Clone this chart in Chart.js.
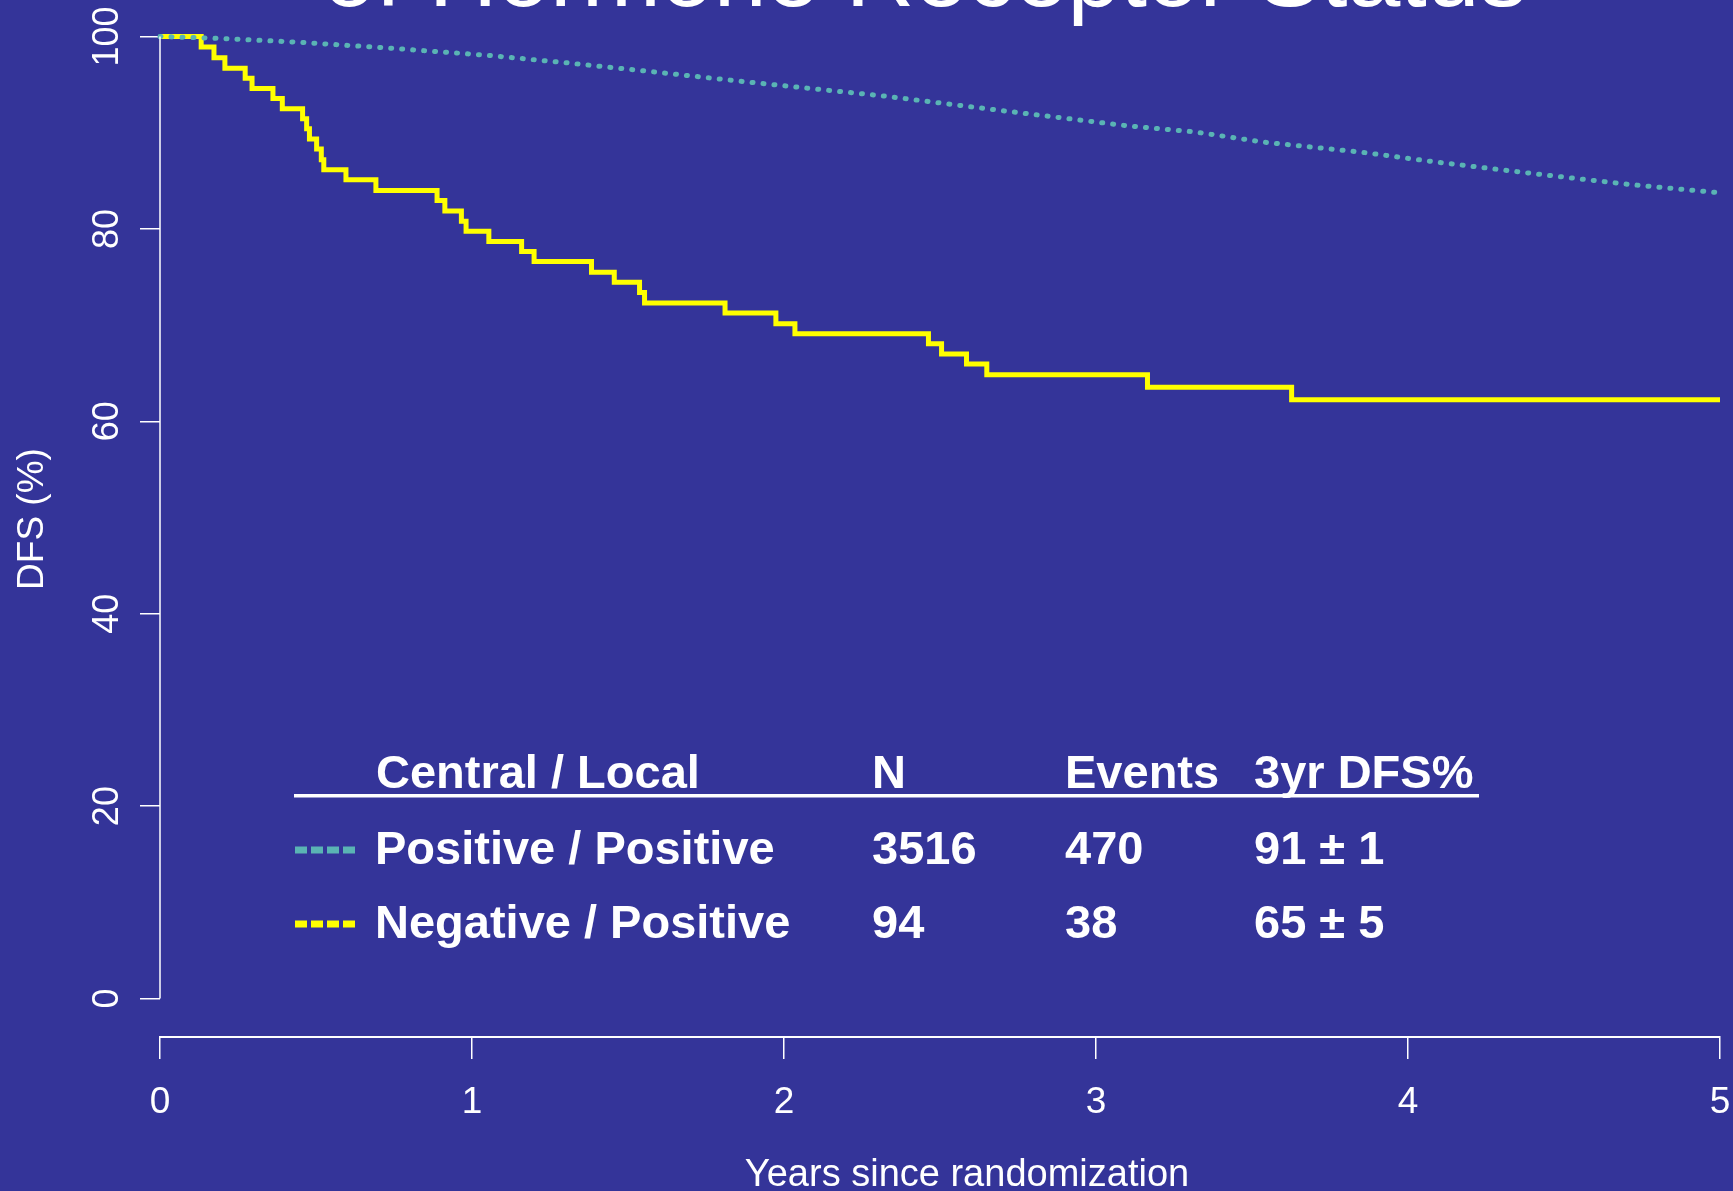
<!DOCTYPE html>
<html><head><meta charset="utf-8">
<script src="https://cdn.jsdelivr.net/npm/chart.js@4.4.1/dist/chart.umd.min.js"></script>
<style>
html,body{margin:0;padding:0;background:#343499;overflow:hidden}
#wrap{width:1733px;height:1191px;position:relative}
canvas{display:block}
</style>
</head><body><div id="wrap"><canvas id="c" width="1733" height="1191"></canvas></div>
<script>
// ---- data ----
const chartTitle = 'of Hormone Receptor Status';
const xAxisTitle = 'Years since randomization';
const yAxisTitle = 'DFS (%)';
const xTicks = [0, 1, 2, 3, 4, 5];
const yTicks = [0, 20, 40, 60, 80, 100];

// Positive / Positive (dotted cyan)
const posPosTimes = [0, 0.192, 0.449, 0.732, 1.047, 1.293, 1.56, 1.846, 2.083, 2.324, 2.66, 2.863, 3.104, 3.312, 3.542, 3.857, 4.09, 4.428, 4.701, 5.0];
const posPosDFS   = [100, 99.8, 99.4, 98.8, 98.05, 97.3, 96.4, 95.4, 94.6, 93.8, 92.45, 91.65, 90.7, 90.1, 89.0, 87.95, 86.95, 85.65, 84.65, 83.75];

// Negative / Positive (solid yellow step curve)
const negPosTimes = [0, 0.132, 0.173, 0.208, 0.273, 0.295, 0.362, 0.392, 0.457, 0.470, 0.479, 0.502, 0.517, 0.525, 0.596, 0.692, 0.888, 0.913, 0.966, 0.981, 1.054, 1.159, 1.199, 1.383, 1.456, 1.537, 1.553, 1.811, 1.974, 2.035, 2.463, 2.505, 2.585, 2.65, 3.165, 3.627, 5.0];
const negPosDFS   = [100, 98.9, 97.8, 96.7, 95.65, 94.6, 93.55, 92.5, 91.45, 90.4, 89.35, 88.3, 87.2, 86.15, 85.1, 84.0, 82.95, 81.85, 80.8, 79.75, 78.7, 77.65, 76.6, 75.5, 74.45, 73.4, 72.3, 71.25, 70.15, 69.1, 68.05, 67.0, 65.95, 64.85, 63.55, 62.25, 62.25];

const tableHeader = ['Central / Local', 'N', 'Events', '3yr DFS%'];
const groupNames  = ['Positive / Positive', 'Negative / Positive'];
const groupN      = ['3516', '94'];
const groupEvents = ['470', '38'];
const group3yr    = ['91 \u00B1 1', '65 \u00B1 5'];

// ---- styling ----
const BG = '#343499';
const CYAN = '#5ab4b4';
const YELLOW = '#ffff00';
const FONT = '"Liberation Sans", Arial, Helvetica, sans-serif';

const toXY = (xs, ys) => xs.map((x, i) => ({x: x, y: ys[i]}));

const bgPlugin = {
  id: 'bg',
  beforeDraw(chart) {
    const ctx = chart.ctx;
    ctx.save();
    ctx.fillStyle = BG;
    ctx.fillRect(0, 0, chart.width, chart.height);
    ctx.restore();
  }
};

const decorPlugin = {
  id: 'decor',
  afterDraw(chart) {
    const ctx = chart.ctx;
    const xs = chart.scales.x, ys = chart.scales.y;
    ctx.save();
    // y axis line (only over 0..100)
    ctx.strokeStyle = '#ffffff';
    ctx.lineWidth = 1.5;
    ctx.beginPath();
    ctx.moveTo(xs.left, ys.getPixelForValue(yTicks[0]));
    ctx.lineTo(xs.left, ys.getPixelForValue(yTicks[yTicks.length - 1]));
    ctx.stroke();

    ctx.fillStyle = '#ffffff';
    // main title (mostly above the visible area)
    ctx.font = '95px ' + FONT;
    ctx.textAlign = 'center';
    ctx.textBaseline = 'alphabetic';
    ctx.fillText(chartTitle, 925, 6);

    // x axis title
    ctx.font = '38px ' + FONT;
    ctx.fillText(xAxisTitle, 967, 1186);

    // y axis title
    ctx.save();
    ctx.translate(33, 519);
    ctx.rotate(-Math.PI / 2);
    ctx.textBaseline = 'middle';
    ctx.font = '37px ' + FONT;
    ctx.fillText(yAxisTitle, 0, 0);
    ctx.restore();

    // table / legend
    const colX = [376, 872, 1065, 1254];
    ctx.textAlign = 'left';
    ctx.textBaseline = 'alphabetic';
    ctx.font = 'bold 47px ' + FONT;
    tableHeader.forEach((t, i) => ctx.fillText(t, colX[i], 788));
    ctx.fillRect(294, 794, 1185, 3.5);

    const rowY = [864, 938];
    const keyY = [850, 924];
    const keyColor = [CYAN, YELLOW];
    for (let r = 0; r < 2; r++) {
      ctx.fillStyle = '#ffffff';
      ctx.fillText(groupNames[r], 375, rowY[r]);
      ctx.fillText(groupN[r], colX[1], rowY[r]);
      ctx.fillText(groupEvents[r], colX[2], rowY[r]);
      ctx.fillText(group3yr[r], colX[3], rowY[r]);
      ctx.strokeStyle = keyColor[r];
      ctx.lineWidth = 7;
      ctx.setLineDash([12, 4]);
      ctx.beginPath();
      ctx.moveTo(295, keyY[r]);
      ctx.lineTo(359, keyY[r]);
      ctx.stroke();
      ctx.setLineDash([]);
    }
    ctx.restore();
  }
};

new Chart(document.getElementById('c'), {
  type: 'line',
  data: {
    datasets: [
      {
        label: groupNames[0],
        data: toXY(posPosTimes, posPosDFS),
        borderColor: CYAN,
        borderWidth: 5,
        borderDash: [1, 10],
        borderCapStyle: 'round',
        pointRadius: 0,
        fill: false,
        clip: false,
        tension: 0
      },
      {
        label: groupNames[1],
        data: toXY(negPosTimes, negPosDFS),
        borderColor: YELLOW,
        borderWidth: 5,
        stepped: true,
        pointRadius: 0,
        fill: false,
        clip: false
      }
    ]
  },
  options: {
    responsive: false,
    animation: false,
    devicePixelRatio: 1,
    layout: { padding: { left: 0, right: 13, top: 36.5, bottom: 0 } },
    plugins: { legend: { display: false }, title: { display: false }, tooltip: { enabled: false } },
    scales: {
      x: {
        type: 'linear',
        min: xTicks[0],
        max: xTicks[xTicks.length - 1],
        afterBuildTicks: s => { s.ticks = xTicks.map(v => ({value: v})); },
        afterFit: s => { s.height = 154; s.paddingLeft = 0; s.paddingRight = 0; },
        grid: { drawOnChartArea: false, drawTicks: true, tickLength: 22, color: '#ffffff', tickWidth: 1.5, lineWidth: 1.5 },
        border: { display: true, color: '#ffffff', width: 2 },
        ticks: { color: '#ffffff', font: { family: FONT, size: 37 }, padding: 22, maxRotation: 0, minRotation: 0 }
      },
      y: {
        type: 'linear',
        min: -4,
        max: 100,
        afterBuildTicks: s => { s.ticks = yTicks.map(v => ({value: v})); },
        afterFit: s => { s.width = 160; s.paddingTop = 0; s.paddingBottom = 0; },
        grid: { drawOnChartArea: false, drawTicks: true, tickLength: 20, color: '#ffffff', tickWidth: 1.5, lineWidth: 1.5 },
        border: { display: false },
        ticks: { color: '#ffffff', font: { family: FONT, size: 36 }, padding: 2, minRotation: 90, maxRotation: 90, crossAlign: 'center' }
      }
    }
  },
  plugins: [bgPlugin, decorPlugin]
});
</script>
</body></html>
